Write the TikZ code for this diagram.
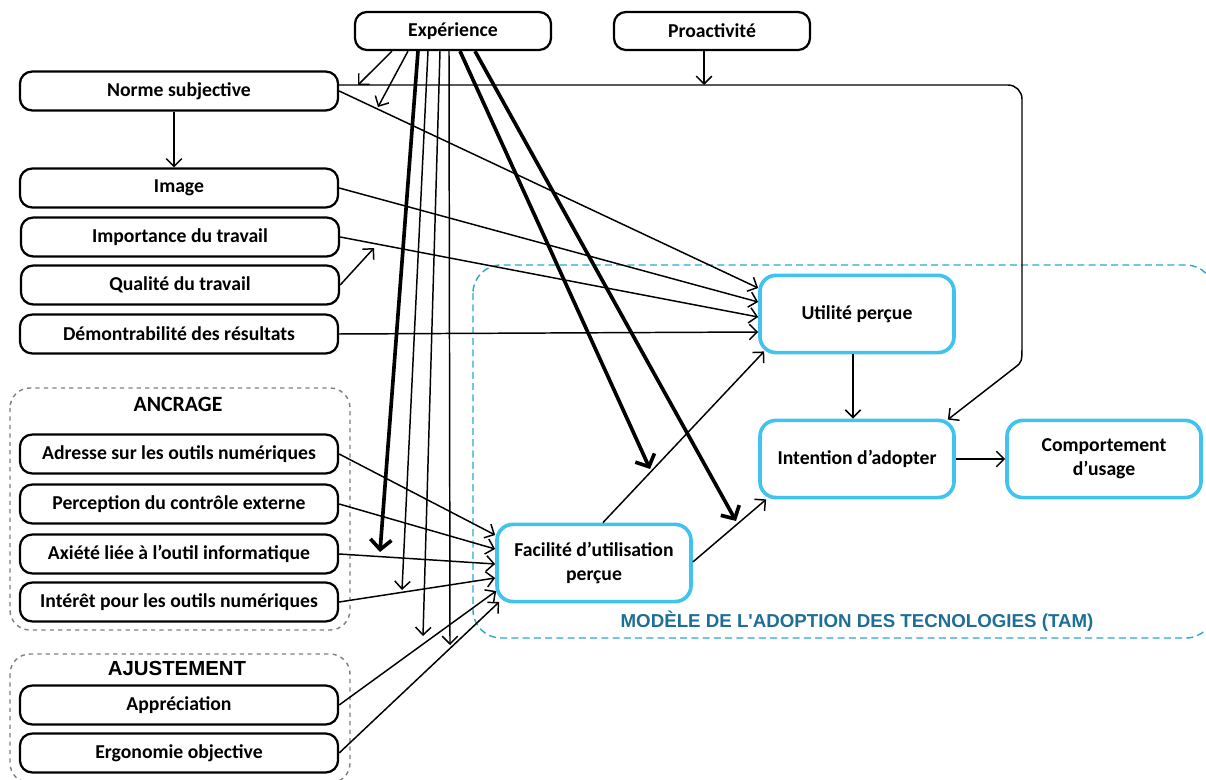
\documentclass[tikz,border=0pt]{standalone}
\usepackage{fontspec}
\setmainfont{Carlito}
\newfontfamily\headfont{Liberation Sans}
\usetikzlibrary{arrows.meta, calc}

\definecolor{tamblue}{HTML}{40C3EE}
\definecolor{tamdash}{HTML}{2BA6D3}
\definecolor{tamtext}{HTML}{1F6E96}
\definecolor{groupgray}{HTML}{7F7F7F}

\begin{document}
\begin{tikzpicture}[
    x=0.025cm, y=-0.025cm,
    every node/.style={font=\fontsize{14}{17}\selectfont\bfseries, align=center},
    factor/.style={draw, line width=1.6pt, rounded corners=3mm, fill=white, minimum width=7.95cm, minimum height=0.97cm, inner sep=0pt},
    top factor/.style={factor, minimum width=4.9cm, minimum height=0.95cm},
    tam/.style={draw=tamblue, line width=2.6pt, rounded corners=4mm, fill=white, minimum width=4.85cm, minimum height=1.93cm, inner sep=0pt},
    group/.style={draw=groupgray, dashed, line width=1pt, rounded corners=5mm},
    tam group/.style={draw=tamdash, dash pattern=on 5pt off 3pt, line width=1pt, rounded corners=7mm},
    group title/.style={font=\fontsize{15.5}{18}\selectfont\bfseries},
    arr/.style={line width=1.05pt, -{Straight Barb[length=5.5pt,width=11pt]}},
    thick arr/.style={line width=2.6pt, -{Straight Barb[length=7pt,width=15pt]}},
  ]
  \useasboundingbox (0,0) rectangle (1206,780);

  % groups
  \draw[group] (10,388) rectangle (350,630);
  \draw[group] (10,654) rectangle (350,783);
  \draw[tam group] (473,265) rectangle (1214,638);
  \node[group title] (ancrage) at (178,404) {ANCRAGE};
  \node[group title, font=\headfont\fontsize{14.5}{17}\selectfont\bfseries] (ajustement) at (177,668) {AJUSTEMENT};
  \node[text=tamtext, font=\headfont\fontsize{13.3}{16}\selectfont\bfseries] (tamlabel) at (857,621) {MODÈLE DE L'ADOPTION DES TECNOLOGIES (TAM)};

  % factors
  \node[top factor] (exp) at (453,31) {Expérience};
  \node[top factor] (proact) at (712,31) {Proactivité};
  \node[factor] (norme) at (179,91) {Norme subjective};
  \node[factor] (image) at (179,188) {Image};
  \node[factor] (importance) at (180,237) {Importance du travail};
  \node[factor] (qualite) at (180,285) {Qualité du travail};
  \node[factor] (demo) at (179,334) {Démontrabilité des résultats};
  \node[factor] (adresse) at (179,454) {Adresse sur les outils numériques};
  \node[factor] (controle) at (179,504) {Perception du contrôle externe};
  \node[factor] (anxiete) at (179,554) {Axiété liée à l’outil informatique};
  \node[factor] (interet) at (179,602) {Intérêt pour les outils numériques};
  \node[factor] (appreciation) at (179,705) {Appréciation};
  \node[factor] (ergonomie) at (179,753) {Ergonomie objective};

  % TAM
  \node[tam] (util) at (857,314) {Utilité perçue};
  \node[tam] (intent) at (857,459) {Intention d’adopter};
  \node[tam] (comp) at (1104,459) {Comportement\\d’usage};
  \node[tam] (facil) at (594,563) {Facilité d’utilisation\\perçue};

  % points on paths
  \coordinate (onNormeInt) at (358,85);
  \coordinate (onNormeUtil) at (378,107);
  \coordinate (onProact) at (704,85);
  \coordinate (onImportance) at (374,248);
  \coordinate (onAnxiete) at (380,552);
  \coordinate (onInteret) at (402,590);
  \coordinate (onAppreciation) at (423,636);
  \coordinate (onErgonomie) at (450,645);
  \coordinate (onFacilUtil) at (650,469);
  \coordinate (onFacilInt) at (736,521);

  % paths
  \draw[arr, rounded corners=10pt] ($(norme.east)+(0,-6)$) -- (1022,85) -- (1022,330)
    .. controls (1022,362) .. (1004,376) -- ($(intent.north east)+(-8,1)$);
  \draw[arr] (norme.east) -- ($(util.west)+(0,-26)$);
  \draw[arr] ($(norme.south)+(-5,0)$) -- ($(image.north)+(-5,0)$);
  \draw[arr] (image.east) -- ($(util.west)+(0,-12)$);
  \draw[arr] (importance.east) -- ($(util.west)+(0,3)$);
  \draw[arr] (qualite.east) -- (onImportance);
  \draw[arr] (demo.east) -- ($(util.west)+(0,18)$);
  \draw[arr] (adresse.east) -- ($(facil.west)+(0,-28)$);
  \draw[arr] (controle.east) -- ($(facil.west)+(0,-14)$);
  \draw[arr] (anxiete.east) -- ($(facil.west)+(0,1)$);
  \draw[arr] (interet.east) -- ($(facil.west)+(0,15)$);
  \draw[arr] (appreciation.east) -- ($(facil.west)+(1,28)$);
  \draw[arr] (ergonomie.east) -- ($(facil.west)+(4,39)$);
  \draw[arr] ($(facil.north)+(9,0)$) -- ($(util.south west)+(6,-3)$);
  \draw[arr] ($(facil.east)+(0,-1)$) -- ($(intent.south west)+(8,0)$);
  \draw[arr] ($(util.south)+(-4,0)$) -- ($(intent.north)+(-4,0)$);
  \draw[arr] (intent.east) -- (comp.west);

  % moderators
  \draw[arr] ($(proact.south)+(-8,0)$) -- (onProact);
  \draw[arr] ($(exp.south)+(-61,0)$) -- (onNormeInt);
  \draw[arr] ($(exp.south)+(-45,0)$) -- (onNormeUtil);
  \draw[thick arr] ($(exp.south)+(-35,0)$) -- (onAnxiete);
  \draw[arr] ($(exp.south)+(-25,0)$) -- (onInteret);
  \draw[arr] ($(exp.south)+(-13,0)$) -- (onAppreciation);
  \draw[arr] ($(exp.south)+(-4,0)$) -- (onErgonomie);
  \draw[thick arr] ($(exp.south)+(7,0)$) -- (onFacilUtil);
  \draw[thick arr] ($(exp.south)+(22,0)$) -- (onFacilInt);

\end{tikzpicture}
\end{document}
